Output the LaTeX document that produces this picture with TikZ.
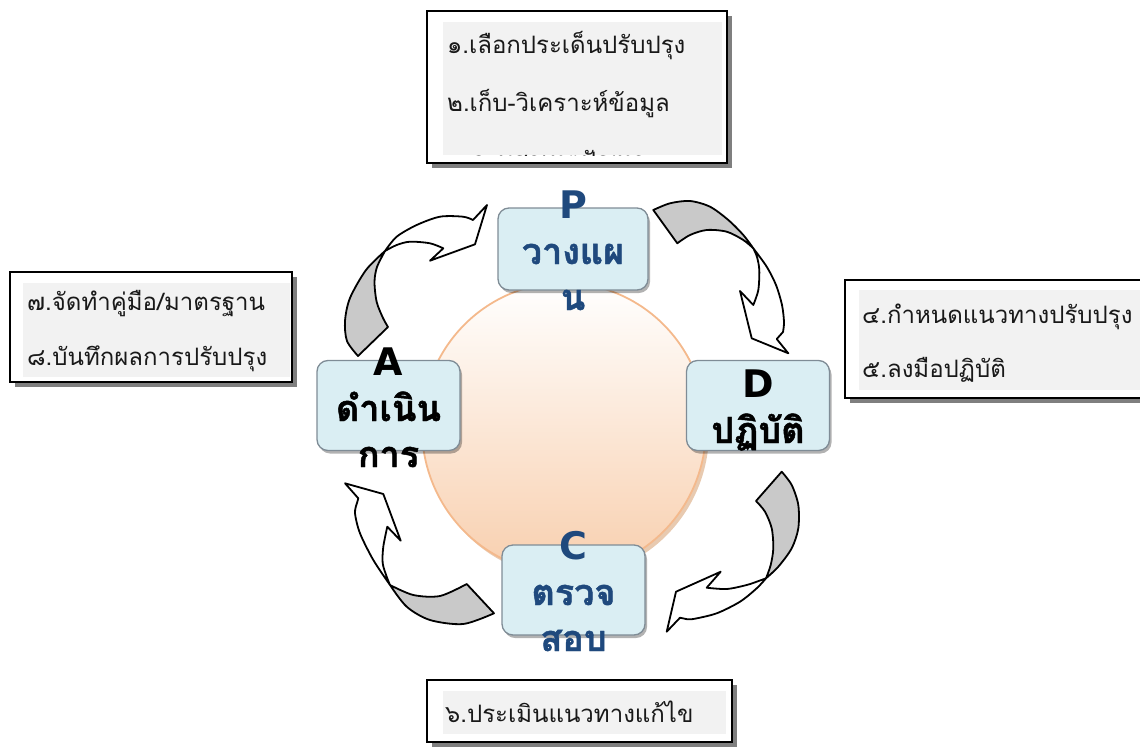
\documentclass[tikz,border=0pt]{standalone}
\usepackage{fontspec}
\newfontfamily\thaifont[Script=Thai]{Loma}
\newfontfamily\thaiheavy[Script=Thai, BoldFeatures={FakeBold=1.3}]{Loma}
\newfontfamily\lettersans{DejaVu Sans}
\usetikzlibrary{shadows}

\definecolor{boxblue}{HTML}{DAEEF3}
\definecolor{boxedge}{HTML}{7F8C96}
\definecolor{pdblue}{HTML}{1F497D}
\definecolor{backgrey}{HTML}{C9C9C9}
\definecolor{listgrey}{HTML}{F2F2F2}
\definecolor{shadowgrey}{HTML}{7F7F7F}
\definecolor{peach}{HTML}{F8CFAE}
\definecolor{peachedge}{HTML}{F4B98C}
\definecolor{peachshadow}{HTML}{D9A67C}

% stage letter in a heavy Latin face
\newcommand{\stageletter}[1]{{\lettersans\bfseries\fontsize{38}{46}\selectfont #1}}

\begin{document}
\begin{tikzpicture}[x=1pt,y=-1pt,
  stage/.style={draw=boxedge, line width=1.3pt, fill=boxblue, rounded corners=11pt,
    minimum width=143pt, minimum height=90pt, inner sep=0pt,
    drop shadow={shadow xshift=2pt, shadow yshift=-3pt, opacity=0.3, fill=black}},
  % anchored at the baseline of the last line
  stagetext/.style={font=\thaiheavy\bfseries\fontsize{36}{46}\selectfont, align=center,
    inner sep=0pt, anchor=base},
  frame/.style={draw=black, line width=2.4pt, fill=white},
  listtext/.style={font=\thaifont\fontsize{24}{29}\selectfont, anchor=base west,
    inner sep=0pt, text=black!90},
  backface/.style={fill=backgrey, draw=black, line width=1.8pt, line join=round},
  frontface/.style={fill=white, draw=black, line width=1.8pt, line join=round}]

\useasboundingbox (0,0) rectangle (1140,747);
\clip (0,0) rectangle (1140,747);

% central disc
\fill[peachshadow, opacity=0.6] (567,432) ellipse [x radius=142, y radius=145];
\shade[top color=white, bottom color=peach] (564,428) ellipse [x radius=142, y radius=145];
\draw[peachedge, line width=1.8pt] (564,428) ellipse [x radius=142, y radius=145];

% cycle stages
\node[stage, minimum width=150pt, minimum height=82pt] (P) at (573,249) {};
\node[stage] (D) at (758,405.5) {};
\node[stage] (C) at (573.5,590) {};
\node[stage] (A) at (388.5,405.5) {};

\node[stagetext, text=pdblue] (Ptxt) at (573,310) {\stageletter{P}\\วางแผ\\น};
\node[stagetext] (Dtxt) at (758,443) {\stageletter{D}\\ปฏิบัติ};
\node[stagetext, text=pdblue] (Ctxt) at (573.5,651) {\stageletter{C}\\ตรวจ\\สอบ};
\node[stagetext] (Atxt) at (388.5,467) {\stageletter{A}\\ดำเนิน\\การ};

% curved arrow A -> P
\path[backface] plot[smooth] coordinates {(358,356) (347,341) (345,321) (350,298) (366,270) (385,251)}
  -- plot[smooth] coordinates {(385,251) (377,267) (374.5,282) (376.7,302) (383,318) (388,327)} -- cycle;
\path[frontface] plot[smooth] coordinates {(385,251) (396.7,236.7) (416.7,225) (440,216.7) (463,216.7) (473,220)}
  -- (487,205) -- (475,244.3) -- (430,260.7) -- (443.3,248.3)
  -- plot[smooth] coordinates {(443.3,248.3) (430,243.3) (410,241.7) (396.7,245) (385,251)} -- cycle;

% curved arrow P -> D
\path[backface] plot[smooth] coordinates {(653.3,210) (670,203.3) (690,201) (710,206.7) (728.3,220) (743.3,235) (753.3,248.3)}
  -- plot[smooth] coordinates {(753.3,248.3) (743.3,240) (726.7,231.7) (706.7,230) (690,235) (677.3,243.3)} -- cycle;
\path[frontface] plot[smooth] coordinates {(753.3,248.3) (766.7,266.7) (776,285) (782,305) (784,322) (783,332)}
  -- (776.7,339) -- (788.3,353.3) -- (751.7,338.3) -- (740,291) -- (753.3,305)
  -- plot[smooth] coordinates {(753.3,305) (758.3,290) (759.3,270) (757,257) (753.3,248.3)} -- cycle;

% curved arrow D -> C
\path[backface] plot[smooth] coordinates {(781.7,471.7) (791.7,485) (798.3,505) (798.3,528.3) (791.7,548.3) (778.3,566.7) (766,578.3)}
  -- plot[smooth] coordinates {(766,578.3) (770.7,565) (773.3,548.3) (771.7,528.3) (765,511.7) (756,501)} -- cycle;
\path[frontface] plot[smooth] coordinates {(766,578.3) (756.7,588.3) (740,601.7) (716.7,613.3) (693.3,619) (686,619)}
  -- (680,617.7) -- (666.7,631.7) -- (676,591.7) -- (720.7,571.7) -- (706.7,587.7)
  -- plot[smooth] coordinates {(706.7,587.7) (726.7,589) (746.7,585) (760,580.5) (766,578.3)} -- cycle;

% curved arrow C -> A
\path[backface] plot[smooth] coordinates {(466.7,584) (440,596) (413.3,595) (390,585)}
  -- plot[smooth] coordinates {(390,585) (406.7,606.7) (430,620) (463.3,624) (494,613.3)} -- cycle;
\path[frontface] plot[smooth] coordinates {(390,585) (373.3,560) (360,533.3) (355,513.3) (357,503)}
  -- (358.3,498.3) -- (345,483.3) -- (383.3,494) -- (400.7,540.7) -- (387.3,526.7)
  -- plot[smooth] coordinates {(387.3,526.7) (383.3,546.7) (382.7,563.3) (386.7,576.7) (390,585)} -- cycle;

% step lists
% planning
\fill[shadowgrey] (432,16) rectangle (732,168);
\draw[frame] (427,11) rectangle (727,163);
\fill[listgrey] (443,22) rectangle (722,155);
\begin{scope}
  \clip (443,22) rectangle (722,155);
  \node[listtext] (plan1) at (447,53) {๑.เลือกประเด็นปรับปรุง};
  \node[listtext] (plan2) at (447,111) {๒.เก็บ-วิเคราะห์ข้อมูล};
  \node[listtext] (plan3) at (472,169) {ระบุสาเหตุปัญหา};
\end{scope}

% acting
\fill[shadowgrey] (15,277) rectangle (297,387);
\draw[frame] (10,272) rectangle (292,382);
\fill[listgrey] (23,283) rectangle (289.5,377);
\node[listtext] (act1) at (27,310) {๗.จัดทำคู่มือ/มาตรฐาน};
\node[listtext] (act2) at (27,365) {๘.บันทึกผลการปรับปรุง};

% doing
\fill[shadowgrey] (850,285) rectangle (1170,403);
\draw[frame] (845,280) rectangle (1165,398);
\fill[listgrey] (859,290) rectangle (1165,390);
\node[listtext] (do1) at (862,323) {๔.กำหนดแนวทางปรับปรุง};
\node[listtext] (do2) at (862,377) {๕.ลงมือปฏิบัติ};

% checking
\fill[shadowgrey] (432,685) rectangle (737,747);
\draw[frame] (427,680) rectangle (732,742);
\fill[listgrey] (443,691) rectangle (726,734);
\node[listtext] (check1) at (445,722) {๖.ประเมินแนวทางแก้ไข};

\end{tikzpicture}
\end{document}
